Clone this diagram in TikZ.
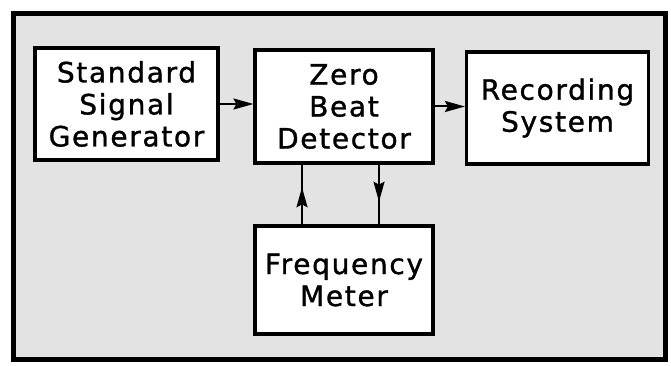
\documentclass[tikz,border=0pt]{standalone}
\usepackage{fontspec}
\newfontfamily\lettering[LetterSpace=6, FakeBold=1.2]{DejaVu Sans}
\usetikzlibrary{arrows.meta, decorations.markings}

\begin{document}
\begin{tikzpicture}[
    x=1pt, y=-1pt,
    block/.style={draw=black, fill=white, line width=3.2pt,
      minimum width=178pt, minimum height=112pt, inner sep=2pt,
      font=\lettering\fontsize{28}{32}\selectfont, align=center},
    link/.style={line width=2pt, -{Stealth[length=20pt, width=11pt, inset=3pt]}},
    midlink/.style={line width=2pt, postaction={decorate},
      decoration={markings, mark=at position 0.62 with {\arrow{Stealth[length=20pt, width=11pt, inset=3pt]}}}},
  ]
    \useasboundingbox (0,0) rectangle (671,366);
    % panel
    \fill[gray!22] (13,14) rectangle (665,359);
    \draw[line width=5pt] (13,14) rectangle (665,359);

    \node[block, minimum width=183pt] (ssg) at (126.5,104) {Standard\\Signal\\Generator};
    \node[block, minimum height=113pt] (zbd) at (344,106.5) {Zero\\Beat\\Detector};
    \node[block, minimum width=182pt] (rec) at (557.5,108) {Recording\\System};
    \node[block, minimum height=108pt] (fm) at (344,280) {Frequency\\Meter};

    \draw[link] (ssg.east) -- (ssg.east -| zbd.west);
    \draw[link] (zbd.east) -- (zbd.east -| rec.west);
    \draw[midlink] ([xshift=-42pt]fm.north) -- ([xshift=-42pt]zbd.south);
    \draw[midlink] ([xshift=35pt]zbd.south) -- ([xshift=35pt]fm.north);
\end{tikzpicture}
\end{document}
